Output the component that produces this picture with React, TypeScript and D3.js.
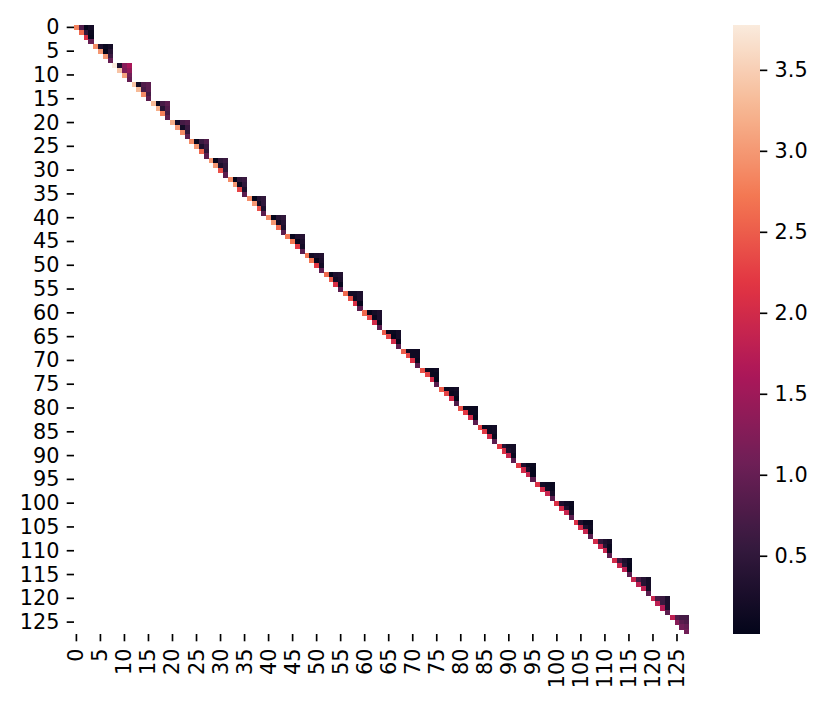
import React from "react";
import * as d3 from "d3";

// Each block is a 4x4 upper-triangular block on the diagonal:
// [a00, a01, a02, a03, a11, a12, a13, a22, a23, a33]
const blockValues: number[][] = [
  [2.8, 0.8, 0.05, 0.2, 2.6, 0.5, 0.1, 2.1, 0.05, 1.0],
  [2.9, 0.3, 0.1, 0.2, 3.0, 0.03, 0.4, 3.0, 0.6, 1.0],
  [3.78, 0.3, 1.3, 1.6, 3.4, 1.2, 1.4, 3.1, 1.1, 1.0],
  [3.4, 0.2, 0.8, 0.9, 3.3, 0.7, 0.9, 2.9, 0.7, 0.9],
  [3.3, 0.1, 0.7, 0.9, 3.2, 0.4, 0.8, 2.8, 0.7, 0.9],
  [3.2, 0.2, 0.7, 0.8, 3.0, 0.2, 0.6, 2.9, 0.5, 0.9],
  [2.9, 0.05, 0.6, 0.8, 3.0, 0.3, 0.6, 2.6, 0.5, 0.9],
  [3.0, 0.05, 0.5, 0.6, 3.0, 0.3, 0.5, 2.4, 0.5, 0.9],
  [2.9, 0.02, 0.5, 0.6, 3.0, 0.1, 0.5, 2.3, 0.3, 0.9],
  [2.9, 0.03, 0.4, 0.5, 3.0, 0.2, 0.5, 2.4, 0.3, 0.9],
  [2.9, 0.05, 0.4, 0.5, 3.0, 0.2, 0.4, 2.6, 0.3, 0.9],
  [2.7, 0.1, 0.3, 0.4, 2.7, 0.05, 0.3, 2.2, 0.2, 0.9],
  [2.7, 0.2, 0.3, 0.35, 2.7, 0.05, 0.3, 2.2, 0.2, 0.95],
  [2.6, 0.05, 0.3, 0.35, 2.5, 0.2, 0.3, 2.1, 0.1, 0.9],
  [2.6, 0.2, 0.2, 0.3, 2.4, 0.15, 0.3, 2.1, 0.05, 0.9],
  [2.6, 0.05, 0.2, 0.3, 2.3, 0.1, 0.3, 2.0, 0.1, 0.9],
  [2.5, 0.1, 0.1, 0.2, 2.3, 0.05, 0.2, 2.0, 0.05, 0.9],
  [2.5, 0.15, 0.15, 0.15, 2.3, 0.15, 0.15, 2.1, 0.1, 0.9],
  [2.4, 0.1, 0.1, 0.15, 2.3, 0.1, 0.1, 2.0, 0.05, 0.9],
  [2.5, 0.1, 0.15, 0.2, 2.3, 0.1, 0.15, 2.0, 0.05, 0.8],
  [2.4, 0.1, 0.1, 0.1, 2.2, 0.1, 0.1, 2.0, 0.05, 0.9],
  [2.3, 0.1, 0.15, 0.2, 2.2, 0.15, 0.2, 2.0, 0.1, 0.9],
  [2.2, 0.4, 0.2, 0.2, 2.1, 0.3, 0.2, 1.9, 0.1, 0.9],
  [2.2, 0.3, 0.1, 0.1, 2.0, 0.3, 0.05, 1.9, 0.05, 0.9],
  [2.1, 0.2, 0.15, 0.1, 2.0, 0.2, 0.1, 1.9, 0.2, 0.9],
  [2.1, 0.3, 0.15, 0.1, 2.0, 0.3, 0.05, 1.9, 0.2, 0.9],
  [2.1, 0.3, 0.1, 0.1, 2.0, 0.3, 0.15, 1.9, 0.1, 0.9],
  [2.0, 0.5, 0.3, 0.2, 1.9, 0.4, 0.1, 1.9, 0.1, 0.9],
  [2.0, 0.6, 0.3, 0.1, 1.9, 0.4, 0.05, 1.8, 0.05, 0.9],
  [1.9, 0.7, 0.4, 0.2, 1.8, 0.4, 0.2, 1.8, 0.2, 0.9],
  [1.9, 0.7, 0.6, 0.3, 1.8, 0.6, 0.3, 1.7, 0.3, 0.9],
  [1.8, 0.8, 0.7, 0.7, 1.3, 0.9, 0.8, 1.1, 1.0, 1.1],
];

const N = 128;
const BLOCK = 4;
const axisTicks: number[] = d3.range(0, N, 5);
const colorbarTicks: number[] = [0.5, 1.0, 1.5, 2.0, 2.5, 3.0, 3.5];

// seaborn "rocket" colormap stops
const rocketStops = ["#03051a", "#35193e", "#701f57", "#ad1759", "#e13342", "#f37651", "#f6b48f", "#faebdd"];

type Cell = { r: number; c: number; v: number };

const cells: Cell[] = [];
blockValues.forEach((vals, b) => {
  let k = 0;
  for (let i = 0; i < BLOCK; i++) {
    for (let j = i; j < BLOCK; j++) {
      cells.push({ r: b * BLOCK + i, c: b * BLOCK + j, v: vals[k] });
      k++;
    }
  }
});

export default function App() {
  const left = 74, right = 689, top = 25, bottom = 634;
  const idx = d3.range(N);
  const x = d3.scaleBand<number>().domain(idx).range([left, right]);
  const y = d3.scaleBand<number>().domain(idx).range([top, bottom]);
  const [vmin, vmax] = d3.extent(cells, (d) => d.v) as [number, number];
  const interp = d3.piecewise(d3.interpolateRgb, rocketStops);
  const color = (v: number) => interp(Math.max(0, Math.min(1, (v - vmin) / (vmax - vmin))));

  const cbX = 733, cbW = 27;
  const cy = d3.scaleLinear().domain([vmin, vmax]).range([bottom, top]);
  const gradStops = d3.range(0, 1.0001, 0.02);

  const font = "DejaVu Sans, sans-serif";
  const fs = 20.8;
  const tickLen = 7.3;
  const pad = 7.3;

  return (
    <svg
      width={830}
      height={714}
      style={{ display: "block", position: "absolute", left: 0, top: 0 }}
      fontFamily={font}
    >
      <rect x={0} y={0} width={830} height={714} fill="#fff" />
      <g shapeRendering="crispEdges">
        {cells.map((d, i) => (
          <rect
            key={i}
            x={x(d.c)!}
            y={y(d.r)!}
            width={x.bandwidth() + 0.3}
            height={y.bandwidth() + 0.3}
            fill={color(d.v)}
          />
        ))}
      </g>
      {/* y axis */}
      {axisTicks.map((t) => {
        const yy = y(t)! + y.bandwidth() / 2;
        return (
          <g key={"y" + t}>
            <line x1={left - tickLen} x2={left} y1={yy} y2={yy} stroke="#000" strokeWidth={1.67} />
            <text x={left - tickLen - pad} y={yy} fontSize={fs} textAnchor="end" dominantBaseline="central">
              {t}
            </text>
          </g>
        );
      })}
      {/* x axis */}
      {axisTicks.map((t) => {
        const xx = x(t)! + x.bandwidth() / 2;
        return (
          <g key={"x" + t}>
            <line x1={xx} x2={xx} y1={bottom} y2={bottom + tickLen} stroke="#000" strokeWidth={1.67} />
            <text
              transform={`translate(${xx},${bottom + tickLen + pad}) rotate(-90)`}
              fontSize={fs}
              textAnchor="end"
              dominantBaseline="central"
            >
              {t}
            </text>
          </g>
        );
      })}
      {/* colorbar */}
      <defs>
        <linearGradient id="cbar" x1="0" y1="1" x2="0" y2="0">
          {gradStops.map((s, i) => (
            <stop key={i} offset={s} stopColor={interp(s)} />
          ))}
        </linearGradient>
      </defs>
      <rect x={cbX} y={top} width={cbW} height={bottom - top} fill="url(#cbar)" />
      {colorbarTicks.map((t) => {
        const yy = cy(t);
        return (
          <g key={"c" + t}>
            <line x1={cbX + cbW} x2={cbX + cbW + tickLen} y1={yy} y2={yy} stroke="#000" strokeWidth={1.67} />
            <text x={cbX + cbW + tickLen + pad} y={yy} fontSize={fs} dominantBaseline="central">
              {t.toFixed(1)}
            </text>
          </g>
        );
      })}
    </svg>
  );
}
